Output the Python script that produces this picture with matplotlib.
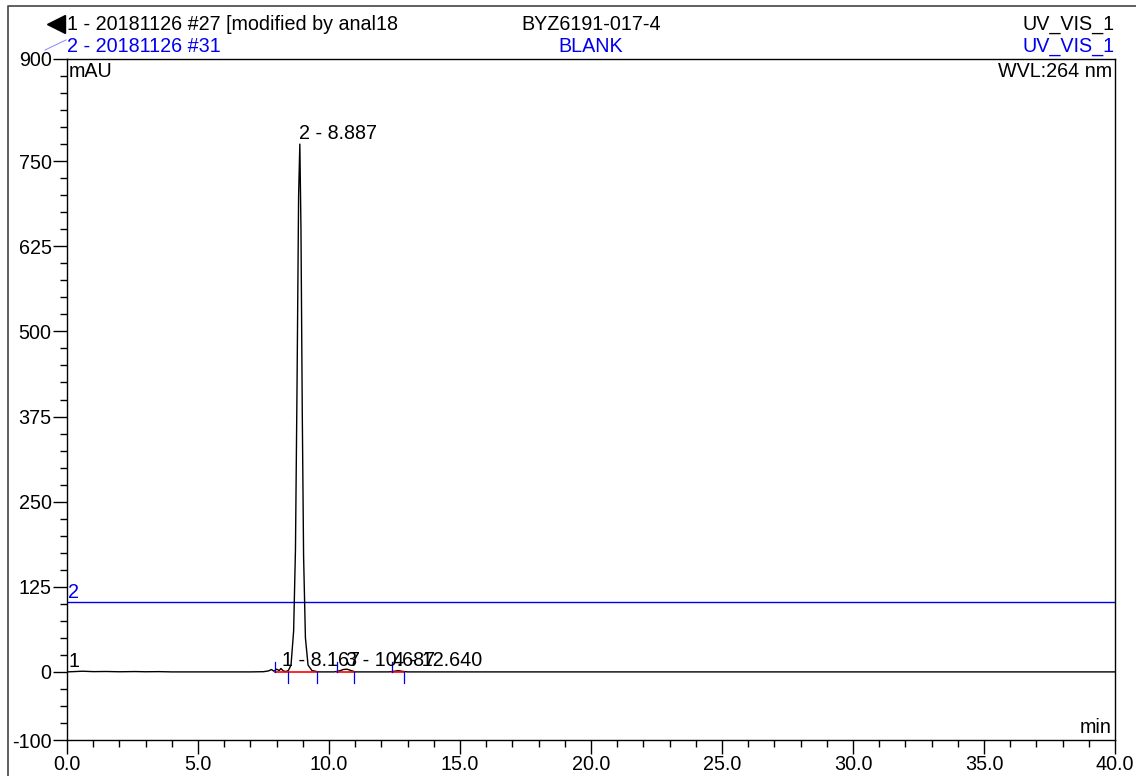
import matplotlib
matplotlib.use("Agg")
import matplotlib.pyplot as plt
from matplotlib.lines import Line2D
import numpy as np

plt.rcParams['font.family'] = ['Liberation Sans', 'DejaVu Sans']

# trace 1 (sample): time (min) / signal (mAU)
t1 = [0.0, 0.6, 1.0, 1.5, 2.0, 2.6, 3.0, 3.5, 4.0, 5.0, 6.0, 7.0, 7.5, 7.7,
      7.8, 7.9, 8.0, 8.1, 8.167, 8.25, 8.35, 8.45, 8.55, 8.65, 8.72, 8.78,
      8.84, 8.887, 8.93, 8.98, 9.03, 9.10, 9.20, 9.35, 9.6, 10.2, 10.4,
      10.55, 10.687, 10.8, 11.0, 12.3, 12.5, 12.64, 12.8, 13.0, 20.0, 30.0, 40.0]
y1 = [0.0, 1.0, 0.4, 0.6, 0.2, 0.5, 0.2, 0.4, 0.0, 0.0, 0.0, 0.0, 0.3, 1.5,
      3.5, 1.0, 4.0, 2.0, 5.0, 1.5, 0.5, 2.0, 10.0, 60.0, 180.0, 420.0,
      700.0, 775.0, 650.0, 380.0, 170.0, 50.0, 10.0, 2.0, 0.0, 0.0, 1.5,
      3.5, 4.0, 2.5, 0.0, 0.0, 1.0, 1.8, 0.8, 0.0, 0.0, 0.0, 0.0]

# trace 2 (blank), drawn with its offset
t2 = [0.0, 40.0]
y2 = [102.0, 102.0]

# integration results
peak_labels = ["1 - 8.167", "2 - 8.887", "3 - 10.687", "4 - 12.640"]
peak_rt = [8.167, 8.887, 10.687, 12.640]
peak_top = [5.0, 775.0, 4.0, 1.8]
base_segments = [(7.94, 9.55), (10.29, 10.96), (12.39, 12.86)]
start_marks = [7.94, 10.29, 12.39]
end_marks = [8.42, 9.55, 10.96, 12.86]

ytick_vals = [-100, 0, 125, 250, 375, 500, 625, 750, 900]
xtick_vals = [0, 5, 10, 15, 20, 25, 30, 35, 40]

W, H = 1136, 776
fig = plt.figure(figsize=(W / 100, H / 100), dpi=100)
ax = fig.add_axes([67 / W, 1 - 740 / H, (1115 - 67) / W, (740 - 59) / H])

ax.plot(t2, y2, color='#0000ee', lw=1.0)
ax.plot(t1, y1, color='black', lw=1.0)

for a, b in base_segments:
    ax.plot([a, b], [0, 0], color='red', lw=1.2)
for s in start_marks:
    ax.plot([s, s], [0, 15], color='#0000ee', lw=0.9)
for e in end_marks:
    ax.plot([e, e], [0, -17], color='#0000ee', lw=0.9)

fs = 14.2
# main peak label above its apex, small ones clustered on the baseline
ax.text(peak_rt[1] - 0.05, peak_top[1] + 2, peak_labels[1], fontsize=fs,
        ha='left', va='bottom')
ax.text(8.2, 3, peak_labels[0], fontsize=fs, ha='left', va='bottom')
ax.text(10.63, 3, peak_labels[2], fontsize=fs, ha='left', va='bottom')
ax.text(12.45, 3, peak_labels[3], fontsize=fs, ha='left', va='bottom')

ax.text(0.05, 2, "1", fontsize=fs, ha='left', va='bottom')
ax.text(0.05, y2[0] + 1, "2", fontsize=fs, ha='left', va='bottom', color='#0000ee')

ax.set_xlim(0, 40)
ax.set_ylim(-100, 900)
ax.set_xticks(xtick_vals)
ax.set_xticklabels([f"{v:.1f}" for v in xtick_vals], fontsize=fs)
ax.set_xticks(np.arange(0, 41, 1), minor=True)
ax.set_yticks(ytick_vals)
ax.set_yticklabels([str(v) for v in ytick_vals], fontsize=fs)
ax.set_yticks(np.arange(-100, 901, 25), minor=True)
ax.tick_params(which='major', length=10, width=1, direction='out', pad=1)
ax.tick_params(which='minor', length=5, width=1, direction='out')
for sp in ax.spines.values():
    sp.set_linewidth(1)

ax.text(0.002, 0.995, "mAU", transform=ax.transAxes, fontsize=fs, ha='left', va='top')
ax.text(0.997, 0.995, "WVL:264 nm", transform=ax.transAxes, fontsize=fs, ha='right', va='top')
ax.text(0.997, 0.005, "min", transform=ax.transAxes, fontsize=fs, ha='right', va='bottom')

# header lines
blue = '#0000ee'
fig.text(67 / W, 1 - 24 / H, "1 - 20181126 #27 [modified by anal18", fontsize=fs, va='center', ha='left')
fig.text(67 / W, 1 - 46 / H, "2 - 20181126 #31", fontsize=fs, va='center', ha='left', color=blue)
fig.text(591 / W, 1 - 24 / H, "BYZ6191-017-4", fontsize=fs, va='center', ha='center')
fig.text(591 / W, 1 - 46 / H, "BLANK", fontsize=fs, va='center', ha='center', color=blue)
fig.text(1115 / W, 1 - 24 / H, "UV_VIS_1", fontsize=fs, va='center', ha='right')
fig.text(1115 / W, 1 - 46 / H, "UV_VIS_1", fontsize=fs, va='center', ha='right', color=blue)

fig.add_artist(Line2D([56 / W], [1 - 24 / H], marker='<', markersize=13, color='black',
                      transform=fig.transFigure))
fig.add_artist(Line2D([45 / W, 66 / W], [1 - 50 / H, 1 - 40 / H], color='#8888ff', lw=0.7,
                      transform=fig.transFigure))
# outer frame
fig.add_artist(Line2D([8 / W, 8 / W, 1.0], [0.0, 1 - 6 / H, 1 - 6 / H], color='#444444', lw=1.2,
                      transform=fig.transFigure))

fig.savefig("out.png", dpi=100)
